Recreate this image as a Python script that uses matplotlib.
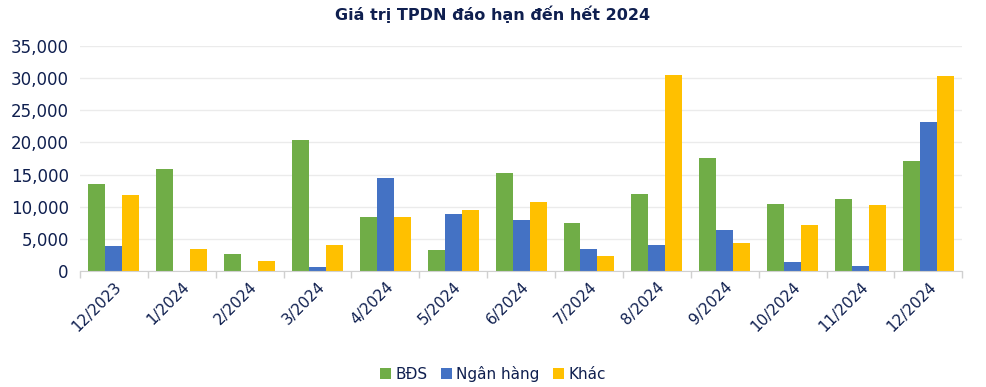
import matplotlib
matplotlib.use("Agg")
import matplotlib.pyplot as plt
import numpy as np
from matplotlib.ticker import FuncFormatter, FixedLocator

categories = ["12/2023", "1/2024", "2/2024", "3/2024", "4/2024", "5/2024", "6/2024",
              "7/2024", "8/2024", "9/2024", "10/2024", "11/2024", "12/2024"]
bds = [13600, 15900, 2600, 20400, 8450, 3300, 15300, 7400, 11900, 17500, 10400, 11250, 17050]
ngan_hang = [3950, 0, 0, 600, 14400, 8850, 7900, 3350, 4050, 6400, 1450, 700, 23250]
khac = [11750, 3450, 1500, 4050, 8450, 9450, 10700, 2350, 30450, 4300, 7200, 10200, 30350]
series_names = ["BĐS", "Ngân hàng", "Khác"]
colors = ["#70AD47", "#4472C4", "#FFC000"]
text_color = "#0F1F4F"

plt.rcParams['font.family'] = ['DejaVu Sans']
fig = plt.figure(figsize=(9.86, 3.87), dpi=100)
ax = fig.add_axes([0.081, 0.300, 0.895, 0.581])

x = np.arange(len(categories))
w = 0.25
for i, (vals, name, c) in enumerate(zip([bds, ngan_hang, khac], series_names, colors)):
    ax.bar(x + (i - 1) * w, vals, width=w, color=c, label=name, zorder=2)

ax.set_xlim(-0.5, len(categories) - 0.5)
ax.set_ylim(0, 35000)
ax.set_yticks(np.arange(0, 35001, 5000))
ax.yaxis.set_major_formatter(FuncFormatter(lambda v, p: f"{int(v):,}"))
ax.grid(axis='y', color='#EBEBEB', linewidth=1, zorder=0)
for s in ['top', 'right', 'left']:
    ax.spines[s].set_visible(False)
ax.spines['bottom'].set_color('#D0D0D0')
ax.tick_params(axis='y', length=0, labelsize=12, colors=text_color, pad=8)

ax.set_xticks(x)
ax.set_xticklabels(categories, rotation=45, ha='right', rotation_mode='anchor',
                   fontsize=11, color=text_color)
ax.tick_params(axis='x', which='major', length=0, pad=6)
ax.xaxis.set_minor_locator(FixedLocator(np.arange(-0.5, len(categories), 1.0)))
ax.tick_params(axis='x', which='minor', length=5, color='#D0D0D0', width=1)

fig.suptitle("Giá trị TPDN đáo hạn đến hết 2024", x=0.5, y=0.985, fontsize=11.5,
             fontweight='bold', color=text_color)

leg = fig.legend(loc='lower center', bbox_to_anchor=(0.5, -0.022), ncol=3, frameon=False,
                 fontsize=11, handlelength=0.7, handleheight=0.7, handletextpad=0.3,
                 columnspacing=0.9)
for t in leg.get_texts():
    t.set_color(text_color)

fig.savefig("out.png", dpi=100, facecolor='white')
